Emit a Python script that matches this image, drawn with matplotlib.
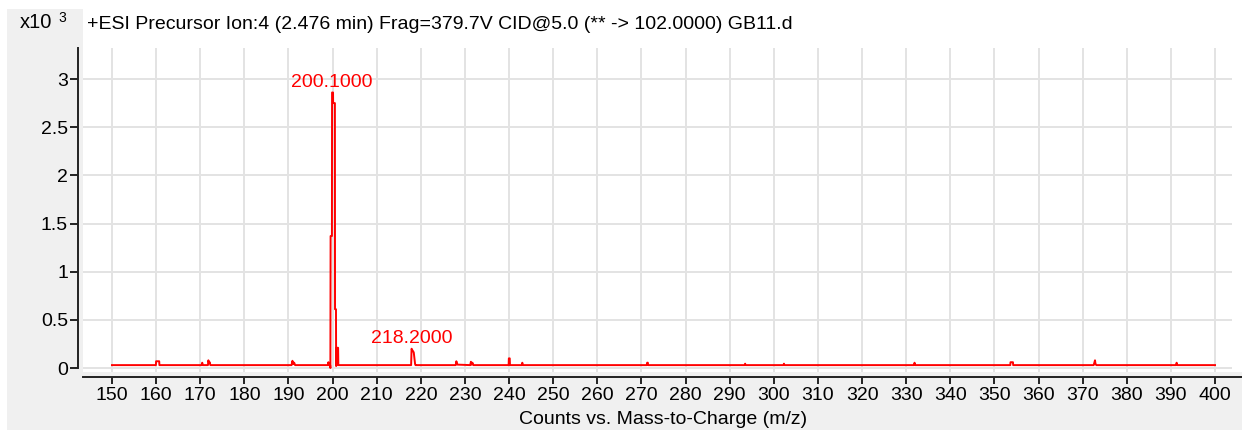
import matplotlib
matplotlib.use('Agg')

import matplotlib.pyplot as plt
from matplotlib.patches import Rectangle

plt.rcParams['font.family'] = ['Liberation Sans', 'DejaVu Sans']

# Profile spectrum: m/z and counts
mz = [150.0, 159.95, 160.0, 160.7, 160.75, 170.3, 170.45, 170.6, 171.75, 171.85, 172.0, 172.15, 172.3,
      190.7, 190.9, 191.1, 191.3, 191.5,
      199.0, 199.05, 199.1, 199.45, 199.5, 199.55, 199.85, 199.88, 200.1, 200.12, 200.52, 200.55,
      200.77, 200.8, 200.9, 200.92, 201.25, 201.3,
      217.8, 217.9, 218.0, 218.3, 218.4, 218.7, 218.8,
      227.9, 228.05, 228.3, 231.2, 231.35, 231.5, 231.7, 231.9,
      239.9, 239.95, 240.15, 240.2, 242.9, 243.0, 243.1,
      271.2, 271.3, 271.45, 271.5, 293.4, 293.5, 293.6, 302.2, 302.3, 302.4,
      331.8, 331.9, 332.0, 353.6, 353.65, 354.2, 354.25, 372.5, 372.8, 372.9, 373.1,
      391.2, 391.3, 391.4, 400.0]
counts = [30, 30, 70, 70, 30, 30, 55, 30, 30, 80, 50, 60, 30,
          30, 75, 40, 55, 30,
          30, 60, 30, 30, 0, 1370, 1370, 2860, 2860, 2750, 2750, 610,
          610, 20, 30, 210, 210, 30,
          30, 200, 190, 170, 160, 40, 30,
          30, 70, 35, 30, 65, 35, 55, 30,
          30, 100, 100, 30, 30, 55, 30,
          30, 55, 55, 30, 30, 45, 30, 30, 45, 30,
          30, 55, 30, 30, 60, 60, 30, 30, 80, 45, 30,
          30, 55, 30, 30]

peak_labels = ['200.1000', '218.2000']
peak_mz = [199.9, 217.95]
peak_counts = [2860, 200]

x_ticks = list(range(150, 401, 10))
y_ticks = [0, 0.5, 1, 1.5, 2, 2.5, 3]
y_ticklabels = ['0', '0.5', '1', '1.5', '2', '2.5', '3']

title = '+ESI Precursor Ion:4 (2.476 min) Frag=379.7V CID@5.0 (** -> 102.0000) GB11.d'
xlabel = 'Counts vs. Mass-to-Charge (m/z)'

W, H = 1242, 430
fig = plt.figure(figsize=(W / 100, H / 100), dpi=100, facecolor='white')

# gray panels behind the axes (left strip and bottom strip)
fig.patches.append(Rectangle((7 / W, 0), (83 - 7) / W, 1 - 9 / H, transform=fig.transFigure,
                             facecolor='#f0f0f0', edgecolor='none', zorder=-2))
fig.patches.append(Rectangle((7 / W, 0), 1, 1 - 372 / H, transform=fig.transFigure,
                             facecolor='#f0f0f0', edgecolor='none', zorder=-2))

ax = fig.add_axes([83 / W, 1 - 372 / H, (1232 - 83) / W, (372 - 48) / H])
ax.set_facecolor('white')

x0 = 143.43
ax.set_xlim(x0, 403.85)
ax.set_ylim(-0.0415, 3.322)

ax.plot(mz, [c / 1000 for c in counts], color='#ff0000', linewidth=1.4, zorder=3)

for lab, x, c in zip(peak_labels, peak_mz, peak_counts):
    ax.annotate(lab, xy=(x, c / 1000), xytext=(0, 4.3), textcoords='offset points',
                ha='center', va='baseline', color='#ff0000', fontsize=14)

ax.set_xticks(x_ticks)
ax.set_yticks(y_ticks)
ax.set_yticklabels(y_ticklabels)
ax.grid(True, color='#e3e3e3', linewidth=1.4, zorder=0)
ax.set_axisbelow(True)

for s in ['top', 'right']:
    ax.spines[s].set_visible(False)
ax.spines['left'].set_position(('outward', 3.6))
ax.spines['left'].set_bounds(0, 3.322)
ax.spines['bottom'].set_position(('outward', 3.6))
ax.spines['bottom'].set_bounds(x0, 406.5)
for s in ['left', 'bottom']:
    ax.spines[s].set_linewidth(1.4)
    ax.spines[s].set_color('#222222')

ax.tick_params(axis='y', direction='out', length=5.8, width=1.4, pad=1.4, labelsize=14, color='#222222')
ax.tick_params(axis='x', direction='out', length=5.0, width=1.4, pad=2.4, labelsize=14, color='#222222')

fig.text(663 / W, 1 - 420 / H, xlabel, ha='center', va='center', fontsize=14)
fig.text(20 / W, 1 - 28.5 / H, 'x10', ha='left', va='baseline', fontsize=14.5)
fig.text(58 / W, 1 - 22.5 / H, '3', ha='left', va='baseline', fontsize=10)
fig.text(87 / W, 1 - 29 / H, title, ha='left', va='baseline', fontsize=14)

fig.savefig('out.png', dpi=100)
